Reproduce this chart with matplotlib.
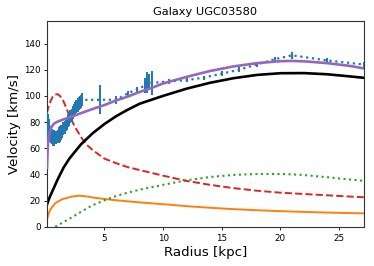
import numpy as np
import matplotlib
matplotlib.use("Agg")
import matplotlib.pyplot as plt

# Observed rotation curve
r_obs = [0.10, 0.13, 0.16, 0.20, 0.25, 0.30, 0.35, 0.40, 0.50, 0.60, 0.70, 0.80, 0.90,
         1.00, 1.10, 1.20, 1.30, 1.40, 1.50, 1.60, 1.70, 1.80, 1.90, 2.00, 2.10,
         2.20, 2.30, 2.40, 2.50, 2.60, 2.70, 2.80, 2.90, 3.00, 3.10,
         4.63, 6.0, 7.0, 7.8, 8.48, 8.62, 8.76, 9.05,
         10.5, 12.0, 13.5, 15.0, 16.5, 18.0, 19.5, 21.0, 24.0, 27.1]
v_obs = [70, 64, 74, 76, 74, 72, 71, 70, 69, 68, 68, 68, 68,
         69, 70, 71, 72, 73, 75, 76, 78, 79, 81, 82, 84,
         85, 87, 89, 90, 92, 93, 94, 95, 96, 97,
         97, 97, 102, 105, 108, 110, 111, 110,
         111, 112, 114, 117, 120, 124, 128, 131, 127, 124]
e_obs = [18, 14, 12, 10, 8, 7, 6, 6, 6, 6, 6, 5, 5,
         5, 6, 6, 6, 5, 5, 5, 5, 5, 5, 5, 5,
         5, 5, 5, 5, 5, 5, 5, 5, 5, 5,
         11, 3, 2, 2, 6, 8, 6, 9,
         2, 1.5, 1.5, 2, 2, 2, 2, 2.5, 2, 2]

# Model components
r_halo = [0.1, 0.3, 0.5, 0.75, 1.0, 1.5, 2.0, 3.0, 4.0, 5.0, 6.0, 7.0, 8.0,
          10.0, 12.0, 14.0, 16.0, 18.0, 20.0, 22.0, 24.0, 26.0, 27.1]
v_halo = [17, 22, 26, 31, 36, 45, 52, 63, 71.5, 78.5, 84.5, 89.5, 94,
          100, 105.5, 110, 113.5, 116, 117.3, 117.4, 116.5, 114.8, 113.8]

r_bulge = [0.1, 0.2, 0.4, 0.6, 0.8, 1.0, 1.2, 1.5, 2.0, 2.5, 3.0, 3.5, 4.0,
           5.0, 6.0, 7.0, 8.0, 10.0, 12.0, 14.0, 16.0, 18.0, 20.0, 22.0,
           24.0, 26.0, 27.1]
v_bulge = [87, 91, 96, 99.5, 101, 101.3, 100, 96, 85, 76, 68.5, 62.5, 58.5,
           52, 48.5, 45.5, 43.3, 39, 35, 32, 29.5, 27.5, 26, 25,
           24, 23, 22.5]

r_disk = [0.1, 0.2, 0.36, 0.5, 0.79, 1.0, 1.36, 1.8, 2.2, 2.8, 3.0, 3.6, 4.0,
          5.0, 6.0, 7.0, 8.0, 10.0, 12.0, 14.0, 16.0, 18.0, 20.0, 22.0,
          24.0, 26.0, 27.1]
v_disk = [5.5, 9, 12.8, 14.5, 17.9, 19, 20.9, 22, 23, 23.7, 23.6, 23, 22.3,
          21.2, 20.2, 19.4, 18.6, 17.2, 15.7, 14.5, 13.4, 12.6, 11.9, 11.3,
          10.8, 10.4, 10.2]

r_gas = [0.8, 1.0, 2.0, 2.78, 3.5, 4.0, 5.06, 6.0, 6.77, 8.0, 10.0, 12.0,
         14.0, 16.0, 18.0, 20.0, 21.0, 22.0, 24.0, 26.0, 27.1]
v_gas = [0, 1, 6, 10.2, 14, 16.5, 20.4, 23.5, 25.5, 28.3, 32, 35.5,
         38, 39.6, 40.3, 40.3, 40, 39.5, 37.8, 36, 35]

r_tot = [0.1, 0.15, 0.2, 0.3, 0.4, 0.5, 0.7, 1.0, 1.5, 2.0, 3.0, 4.0, 5.0,
         6.0, 7.0, 8.0, 9.0, 10.0, 12.0, 14.0, 16.0, 18.0, 20.0, 21.0,
         22.0, 24.0, 26.0, 27.1]
v_tot = [45, 58, 65, 71, 74.5, 76.5, 78.8, 80.3, 82, 83.5, 86.8, 90, 93,
         96.5, 99.5, 103, 106, 109.5, 114.5, 119, 122.5, 125, 126.5, 126.7,
         126.4, 125, 122.8, 121]

fig = plt.figure(figsize=(3.74, 2.66), dpi=100)
ax = fig.add_axes([0.1257, 0.1477, 0.8468, 0.7733])

ax.errorbar(r_obs, v_obs, yerr=e_obs, fmt=':', color='tab:blue', lw=1.6,
            elinewidth=1.4, zorder=3)
ax.plot(r_disk, v_disk, color='tab:orange', lw=1.4, zorder=2)
ax.plot(r_gas, v_gas, ':', color='tab:green', lw=1.5, zorder=2)
ax.plot(r_bulge, v_bulge, '--', color='tab:red', lw=1.4, zorder=2)
ax.plot(r_halo, v_halo, color='black', lw=1.9, zorder=2)
ax.plot(r_tot, v_tot, color='tab:purple', lw=1.9, zorder=4)

ax.set_xlim(min(r_obs), max(r_obs))
ax.set_ylim(0, 1.2 * max(v_obs))
ax.set_xticks([5, 10, 15, 20, 25])
ax.set_yticks([0, 20, 40, 60, 80, 100, 120, 140])
ax.tick_params(labelsize=6.3, length=2.5, width=0.6, pad=2)
ax.tick_params(axis='x', pad=3)
for s in ax.spines.values():
    s.set_linewidth(0.8)
    s.set_color('#333333')
ax.set_title('Galaxy UGC03580', fontsize=8.2, pad=4)
ax.set_xlabel('Radius [kpc]', fontsize=9.6, labelpad=2)
ax.set_ylabel('Velocity [km/s]', fontsize=9.6, labelpad=2)

fig.savefig('out.png', dpi=100)
